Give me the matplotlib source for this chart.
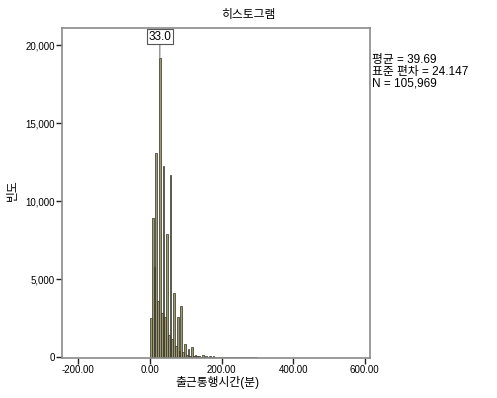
import matplotlib
matplotlib.use("Agg")
import matplotlib.pyplot as plt

plt.rcParams["font.family"] = ["Liberation Sans", "Noto Sans CJK KR"]

# histogram bins: left edge (minutes), width 5
bin_left = list(range(0, 300, 5))
counts = [
    2480, 8900, 5800, 13060, 3570, 19170, 2800, 12230, 2600, 7900,
    1400, 11700, 1150, 4140, 700, 2550, 400, 3250, 300, 830,
    150, 500, 100, 640, 60, 150, 40, 100, 30, 120,
    20, 60, 15, 40, 10, 50, 10, 30, 8, 25,
    5, 30, 5, 15, 5, 20, 3, 10, 3, 15,
    2, 8, 2, 6, 2, 10, 1, 4, 1, 6,
]
bin_width = 5
x_ticks = [-200, 0, 200, 400, 600]
y_ticks = [0, 5000, 10000, 15000, 20000]
stats_text = "평균 = 39.69\n표준 편차 = 24.147\nN = 105,969"
peak_label = "33.0"

fig = plt.figure(figsize=(4.97, 3.98), dpi=100)
ax = fig.add_axes([0.1247, 0.1005, 0.6198, 0.8291])

ax.bar(bin_left, counts, width=bin_width, align="edge",
       color="#9e9b74", edgecolor="#2e2e22", linewidth=0.5)

ax.set_xlim(-246, 615)
ax.set_ylim(-60, 21100)
ax.set_xticks(x_ticks)
ax.set_xticklabels([f"{v:.2f}" for v in x_ticks])
ax.set_yticks(y_ticks)
ax.set_yticklabels([f"{v:,}" for v in y_ticks])
ax.tick_params(labelsize=7, length=4, width=1, color="#222222", pad=1)

for s in ax.spines.values():
    s.set_color("#8a8a8a")
    s.set_linewidth(1.2)

fig.text(0.438, 0.038, "출근통행시간(분)", ha="center", va="center", fontsize=8.5)
fig.text(0.026, 0.523, "빈도", ha="center", va="center", fontsize=8.5,
         rotation=90)
fig.text(0.5, 0.962, "히스토그램", ha="center", va="center", fontsize=8.5)

# peak annotation box
i_peak = counts.index(max(counts))
px = bin_left[i_peak] + bin_width / 2
ax.annotate(peak_label, xy=(px, counts[i_peak]), xytext=(px, 20550),
            ha="center", va="center", fontsize=8.5,
            bbox=dict(boxstyle="square,pad=0.15", fc="white", ec="#555555", lw=0.8),
            arrowprops=dict(arrowstyle="-", color="#777777", lw=0.8,
                            shrinkA=0, shrinkB=0))

fig.text(0.749, 0.82, stats_text, ha="left", va="center", fontsize=8.5,
         linespacing=1.0)

fig.savefig("out.png", dpi=100)
